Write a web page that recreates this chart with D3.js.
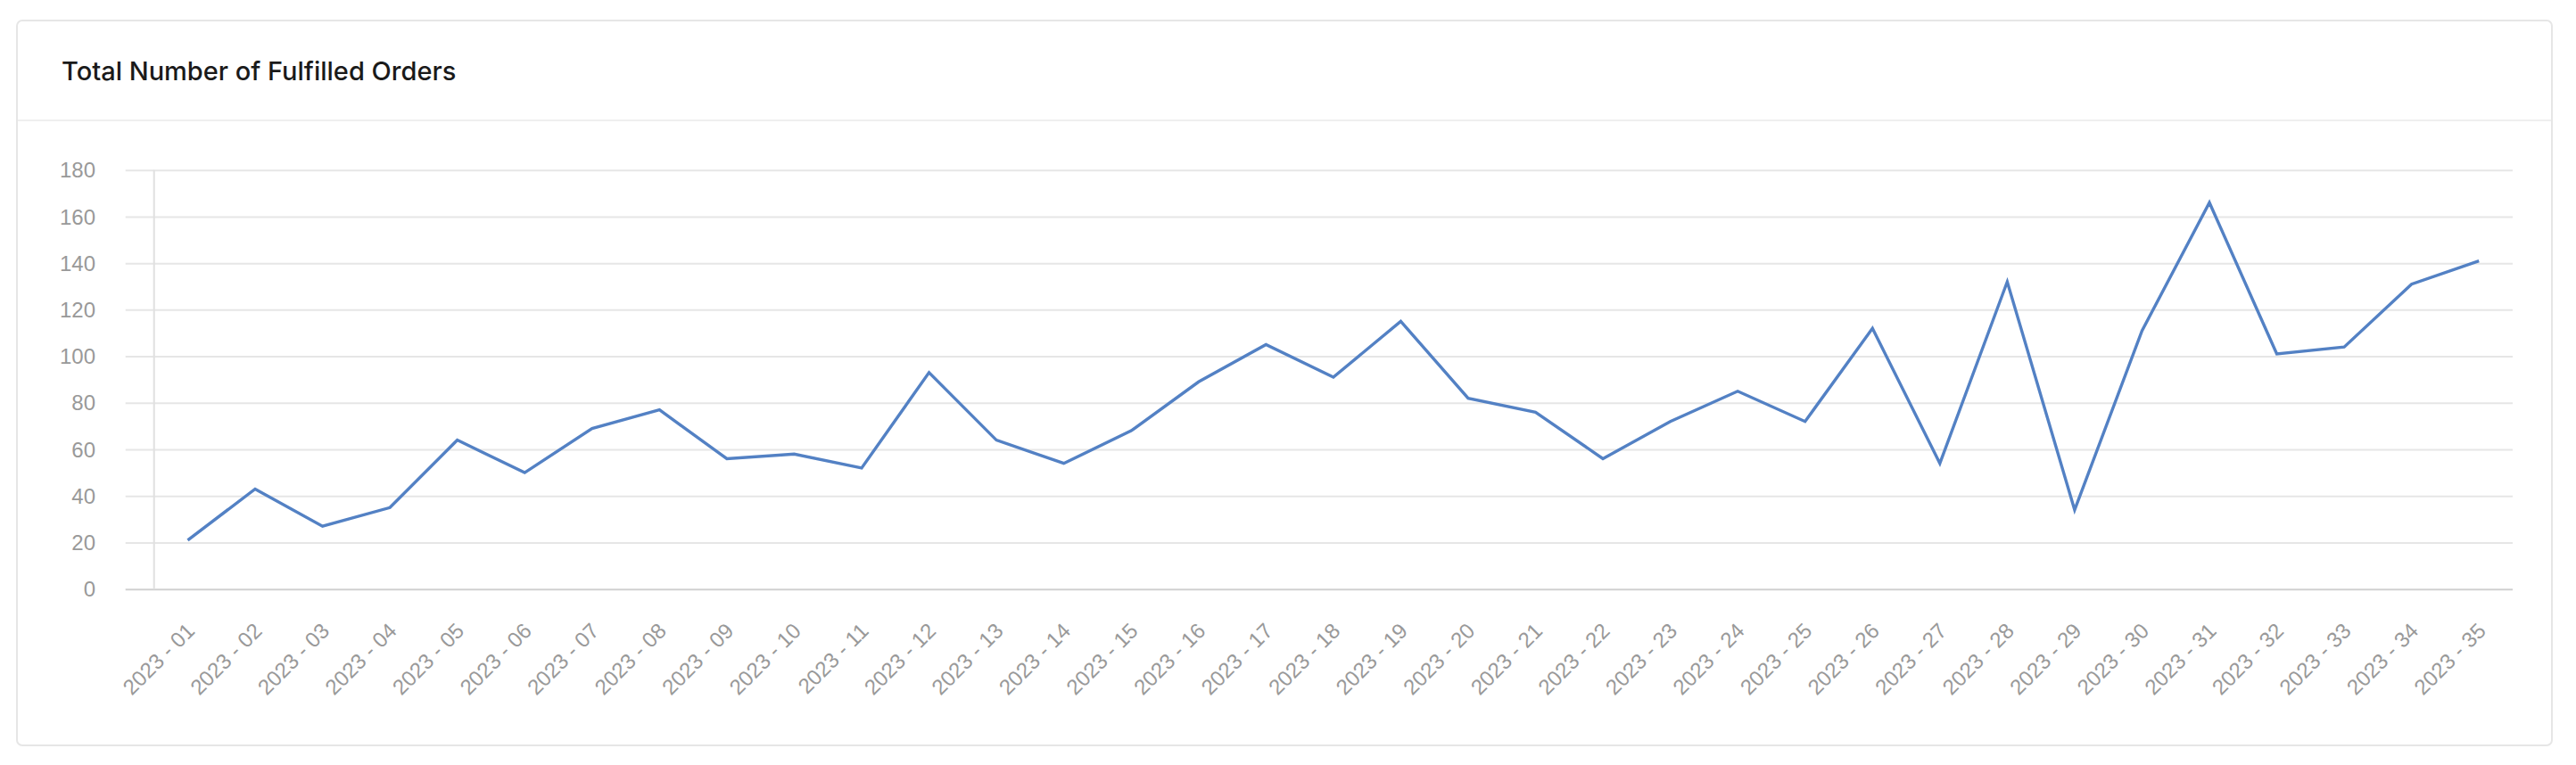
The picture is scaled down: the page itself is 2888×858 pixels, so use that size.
<html>
<head>
	<script src="https://d3js.org/d3.v7.min.js"></script>
	<style>
		body { margin: 0; background: #fff; }
	</style>
</head>
<body>
	<svg></svg>
</body>
<script type="text/javascript">
	// weekly fulfilled orders
	var weeks = ["2023 - 01", "2023 - 02", "2023 - 03", "2023 - 04", "2023 - 05", "2023 - 06", "2023 - 07",
		"2023 - 08", "2023 - 09", "2023 - 10", "2023 - 11", "2023 - 12", "2023 - 13", "2023 - 14",
		"2023 - 15", "2023 - 16", "2023 - 17", "2023 - 18", "2023 - 19", "2023 - 20", "2023 - 21",
		"2023 - 22", "2023 - 23", "2023 - 24", "2023 - 25", "2023 - 26", "2023 - 27", "2023 - 28",
		"2023 - 29", "2023 - 30", "2023 - 31", "2023 - 32", "2023 - 33", "2023 - 34", "2023 - 35"];
	var orders = [21, 43, 27, 35, 64, 50, 69, 77, 56, 58, 52, 93, 64, 54, 68, 89, 105, 91, 115, 82,
		76, 56, 72, 85, 72, 112, 54, 132, 34, 111, 166, 101, 104, 131, 141];
	var yTicks = [0, 20, 40, 60, 80, 100, 120, 140, 160, 180];
	var title = "Total Number of Fulfilled Orders";

	var width = 2888;
	var height = 858;
	var margin = {
		"left": 172.7,
		"right": 71,
		"top": 190.7,
		"bottom": 197.3,
	};

	var svg = d3.select("svg")
		.attr("width", width)
		.attr("height", height);

	// card
	svg.append("rect")
		.attr("x", 19)
		.attr("y", 23)
		.attr("width", 2842)
		.attr("height", 813)
		.attr("rx", 6)
		.attr("fill", "#fff")
		.attr("stroke", "#e6e6e6")
		.attr("stroke-width", 2);
	svg.append("line")
		.attr("x1", 20).attr("x2", 2860)
		.attr("y1", 135).attr("y2", 135)
		.attr("stroke", "#efefef")
		.attr("stroke-width", 2);
	svg.append("text")
		.attr("x", 69)
		.attr("y", 90)
		.attr("font-family", "Inter, 'Noto Sans', sans-serif")
		.attr("font-size", 29)
		.attr("font-weight", 500)
		.attr("fill", "#1a1a1a")
		.text(title);

	var x = d3.scaleBand()
		.range([margin.left, width - margin.right])
		.domain(weeks);
	var y = d3.scaleLinear()
		.range([height - margin.bottom, margin.top])
		.domain([0, 180]);

	// grid lines (they stick out left of the axis like ticks)
	svg.append("g")
		.attr("transform", "translate(" + margin.left + ",0)")
		.call(d3.axisLeft(y).tickValues(yTicks).tickSize(-(width - margin.right - margin.left)).tickSizeOuter(0).tickFormat(""))
		.call(function(g) { g.select(".domain").remove(); })
		.call(function(g) {
			g.selectAll(".tick line")
				.attr("x1", -32)
				.attr("stroke", function(d) { return d === 0 ? "#d0d0d0" : "#e6e6e6"; })
				.attr("stroke-width", 2);
		});

	// y axis line
	svg.append("line")
		.attr("x1", margin.left).attr("x2", margin.left)
		.attr("y1", y(180)).attr("y2", y(0))
		.attr("stroke", "#e0e0e0")
		.attr("stroke-width", 2);

	// y labels
	svg.append("g")
		.selectAll("text")
		.data(yTicks)
		.enter().append("text")
		.attr("x", 107)
		.attr("y", function(d) { return y(d); })
		.attr("dy", "0.36em")
		.attr("text-anchor", "end")
		.attr("font-family", "'Liberation Sans', Arial, sans-serif")
		.attr("font-size", 24)
		.attr("fill", "#999")
		.text(function(d) { return d; });

	// x labels, rotated
	svg.append("g")
		.selectAll("text")
		.data(weeks)
		.enter().append("text")
		.attr("transform", function(d) {
			return "translate(" + (x(d) + x.bandwidth() / 2 + 3) + "," + 703 + ") rotate(-45)";
		})
		.attr("dy", "0.36em")
		.attr("text-anchor", "end")
		.attr("font-family", "'Liberation Sans', Arial, sans-serif")
		.attr("font-size", 24)
		.attr("fill", "#999")
		.text(function(d) { return d; });

	var line = d3.line()
		.x(function(d, i) { return x(weeks[i]) + x.bandwidth() / 2; })
		.y(function(d) { return y(d); });

	svg.append("path")
		.datum(orders)
		.attr("fill", "none")
		.attr("stroke", "#5381c4")
		.attr("stroke-width", 3.4)
		.attr("stroke-linejoin", "miter")
		.attr("d", line);
</script>
</html>
